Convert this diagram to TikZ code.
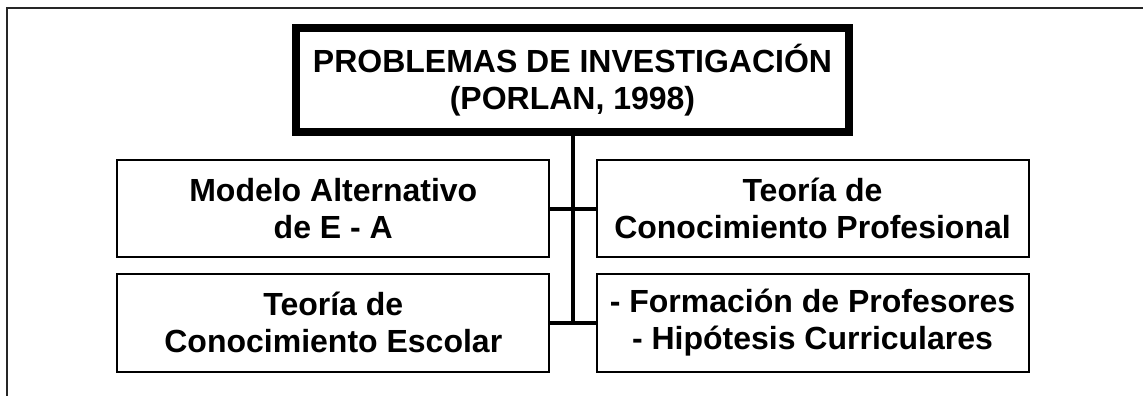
\documentclass[tikz,border=0pt]{standalone}
\usepackage{fontspec}
\setmainfont{Liberation Sans}
\begin{document}
\begin{tikzpicture}[x=1pt,y=-1pt,
  txt/.style={font=\fontsize{32}{37}\selectfont\bfseries, align=center, inner sep=0pt},
  titlebox/.style={txt, draw, line width=8pt, minimum width=553pt, minimum height=104pt},
  subbox/.style={txt, draw, line width=2pt, minimum width=432pt, minimum height=97pt},
  lowbox/.style={subbox, minimum height=98.5pt},
  link/.style={line width=4.5pt}
]
\useasboundingbox (0,0) rectangle (1143,396);
\draw[line width=1.5pt, black!85] (7,396) -- (7,8) -- (1143,8);

\node[titlebox] (title) at (572.5,80) {PROBLEMAS DE INVESTIGACIÓN\\(PORLAN, 1998)};
\node[subbox] (ul) at (333.3,208.5) {Modelo Alternativo\\de E - A};
\node[subbox] (ur) at (812.5,208.5) {Teoría de\\Conocimiento Profesional};
\node[lowbox] (ll) at (333.3,322.75) {Teoría de\\Conocimiento Escolar};
\node[lowbox] (lr) at (812.5,322.75) {- Formación de Profesores\\- Hipótesis Curriculares};

\coordinate (tb) at (573,322.75);
\draw[link, line cap=rect] (title.south -| tb) -- (tb);
\draw[line width=4pt] (ul.east) -- (ur.west);
\draw[line width=4pt] (ll.east) -- (lr.west);
\end{tikzpicture}
\end{document}
